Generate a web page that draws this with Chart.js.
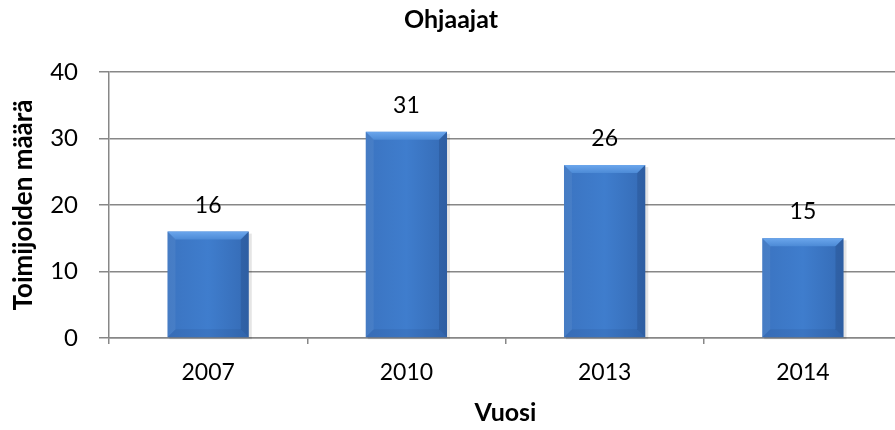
<!DOCTYPE html>
<html>
<head>
<meta charset="utf-8">
<script src="https://cdn.jsdelivr.net/npm/chart.js@4"></script>
<style>
  html, body { margin: 0; padding: 0; background: #fff; overflow: hidden; }
  #wrap { width: 910px; height: 430px; }
</style>
</head>
<body>
<div id="wrap"><canvas id="chart"></canvas></div>
<script>
const years = ["2007", "2010", "2013", "2014"];
const counts = [16, 31, 26, 15];
const yTicks = [0, 10, 20, 30, 40];

const FONT = "Lato, 'Liberation Sans', sans-serif";

// Excel-style bevelled bars, drawn from the bar elements
const bevelBars = {
    id: "bevelBars",
    afterDatasetsDraw(chart) {
        const ctx = chart.ctx;
        chart.getDatasetMeta(0).data.forEach((bar, i) => {
            const l = bar.x - bar.width / 2, r = bar.x + bar.width / 2;
            const t = bar.y, b = bar.base;
            const bv = 8;
            ctx.save();
            // shadow
            ctx.fillStyle = "rgba(0,0,0,0.10)";
            ctx.fillRect(l + 2, t + 2, r - l + 1, b - t);
            // body
            const g = ctx.createLinearGradient(l, 0, r, 0);
            g.addColorStop(0, "#3b74c1");
            g.addColorStop(0.5, "#3f7dcd");
            g.addColorStop(1, "#356bb5");
            ctx.fillStyle = g;
            ctx.fillRect(l, t, r - l, b - t);
            // top bevel
            const gt = ctx.createLinearGradient(0, t, 0, t + bv);
            gt.addColorStop(0, "#6ba6ec");
            gt.addColorStop(1, "#4c8ad6");
            ctx.fillStyle = gt;
            ctx.beginPath();
            ctx.moveTo(l, t); ctx.lineTo(r, t); ctx.lineTo(r - bv, t + bv); ctx.lineTo(l + bv, t + bv);
            ctx.closePath(); ctx.fill();
            // left bevel
            ctx.fillStyle = "rgba(255,255,255,0.06)";
            ctx.beginPath();
            ctx.moveTo(l, t); ctx.lineTo(l + bv, t + bv); ctx.lineTo(l + bv, b - bv); ctx.lineTo(l, b);
            ctx.closePath(); ctx.fill();
            // right bevel
            ctx.fillStyle = "rgba(10,30,70,0.16)";
            ctx.beginPath();
            ctx.moveTo(r, t); ctx.lineTo(r - bv, t + bv); ctx.lineTo(r - bv, b - bv); ctx.lineTo(r, b);
            ctx.closePath(); ctx.fill();
            // bottom bevel
            ctx.fillStyle = "rgba(10,30,70,0.08)";
            ctx.beginPath();
            ctx.moveTo(l, b); ctx.lineTo(l + bv, b - bv); ctx.lineTo(r - bv, b - bv); ctx.lineTo(r, b);
            ctx.closePath(); ctx.fill();
            // value label
            ctx.fillStyle = "#000";
            ctx.font = "23px " + FONT;
            ctx.textAlign = "center";
            ctx.textBaseline = "alphabetic";
            ctx.fillText(counts[i], bar.x, t - 19);
            ctx.restore();
        });
    }
};

new Chart(document.getElementById("chart"), {
    type: "bar",
    data: {
        labels: years,
        datasets: [{
            data: counts,
            backgroundColor: "rgba(0,0,0,0)",
            barPercentage: 0.41,
            categoryPercentage: 1
        }]
    },
    options: {
        responsive: true,
        maintainAspectRatio: false,
        animation: false,
        layout: { padding: { right: 8 } },
        plugins: {
            legend: { display: false },
            tooltip: { enabled: false },
            title: {
                display: true,
                text: "Ohjaajat",
                color: "#000",
                font: { family: FONT, size: 25, weight: "bold" },
                padding: { top: 5, bottom: 37 }
            }
        },
        scales: {
            x: {
                offset: true,
                grid: { offset: true, drawOnChartArea: false, color: "#878787", lineWidth: 1.5, tickLength: 6 },
                border: { color: "#878787", width: 1.5 },
                ticks: { color: "#000", font: { family: FONT, size: 23 }, padding: 15 },
                title: { display: true, text: "Vuosi", color: "#000", font: { family: FONT, size: 25, weight: "bold" }, padding: { top: 4, bottom: 2 } },
                afterFit(scale) { scale.height = 92; }
            },
            y: {
                min: 0,
                max: 40,
                afterBuildTicks(scale) { scale.ticks = yTicks.map(v => ({ value: v })); },
                grid: { color: "#878787", lineWidth: 1.5, tickLength: 10 },
                border: { color: "#878787", width: 1.5 },
                ticks: { color: "#000", font: { family: FONT, size: 24 }, padding: 21 },
                title: { display: true, text: "Toimijoiden määrä", color: "#000", font: { family: FONT, size: 26, weight: "bold" }, padding: { top: 8, bottom: 0 } },
                afterFit(scale) { scale.width = 109; }
            }
        }
    },
    plugins: [bevelBars]
});
</script>
</body>
</html>
